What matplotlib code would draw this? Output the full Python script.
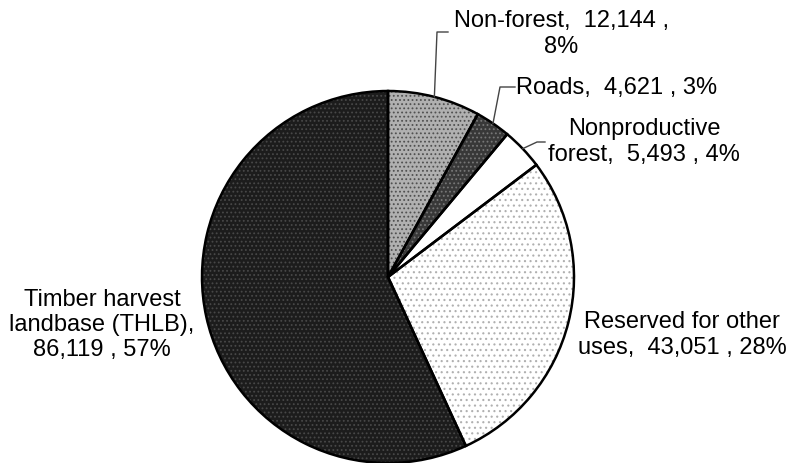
import matplotlib.pyplot as plt
import numpy as np

plt.rcParams['font.family'] = ['Liberation Sans', 'DejaVu Sans']
plt.rcParams['hatch.linewidth'] = 0.8

names = ['Non-forest', 'Roads', 'Nonproductive\nforest', 'Reserved for other\nuses',
         'Timber harvest\nlandbase (THLB),\n']
areas = [12144, 4621, 5493, 43051, 86119]
pcts = [8, 3, 4, 28, 57]

faces = ['#b0b0b0', '#383838', '#ffffff', '#ffffff', '#1c1c1c']
hatch_cols = ['#505050', '#777777', '#ffffff', '#b0b0b0', '#484848']
hatches = ['....', '....', None, '...', '....']

fig = plt.figure(figsize=(7.9, 4.64), dpi=100)
ax = fig.add_axes([0, 0, 1, 1])

cx, cy, r = 388, 186, 186

wedges, _ = ax.pie(areas, colors=faces, startangle=90, counterclock=False,
                   center=(cx, cy), radius=r, wedgeprops=dict(linewidth=0))
for w, h, hc in zip(wedges, hatches, hatch_cols):
    w.set_edgecolor(hc)
    if h:
        w.set_hatch(h)
ax.pie(areas, startangle=90, counterclock=False, center=(cx, cy), radius=r,
       wedgeprops=dict(fill=False, edgecolor='black', linewidth=1.8))

ax.set_xlim(0, 790)
ax.set_ylim(0, 464)
ax.set_aspect('equal')
ax.axis('off')

# mid angles of wedges, for leader lines
frac = np.array(areas) / sum(areas)
mid = 90 - 360 * (np.cumsum(frac) - frac / 2)
def edge_pt(i):
    a = np.deg2rad(mid[i])
    return cx + r * np.cos(a), cy + r * np.sin(a)

fs = 17
def lab(i):
    return '%s,  %s , %d%%' % (names[i], format(areas[i], ','), pcts[i])

# Non-forest
ax.text(561, 430, '%s,  %s ,\n%d%%' % (names[0], format(areas[0], ','), pcts[0]),
        ha='center', va='center', fontsize=fs, linespacing=1.2)
x0, y0 = edge_pt(0)
ax.plot([x0, 437, 448], [y0, 431, 431], color='#444444', lw=1)

# Roads
ax.text(516, 376, lab(1), ha='left', va='center', fontsize=fs)
x0, y0 = edge_pt(1)
ax.plot([x0, 500, 515], [y0, 376, 376], color='#444444', lw=1)

# Nonproductive forest
ax.text(644, 322, lab(2), ha='center', va='center', fontsize=fs, linespacing=1.2)
x0, y0 = edge_pt(2)
ax.plot([x0, 537, 545], [y0, 321, 321], color='#444444', lw=1)

# Reserved
ax.text(682, 129, lab(3), ha='center', va='center', fontsize=fs, linespacing=1.2)

# THLB
ax.text(102, 139, '%s%s , %d%%' % (names[4], format(areas[4], ','), pcts[4]),
        ha='center', va='center', fontsize=fs, linespacing=1.2)

fig.savefig('out.png', dpi=100)
